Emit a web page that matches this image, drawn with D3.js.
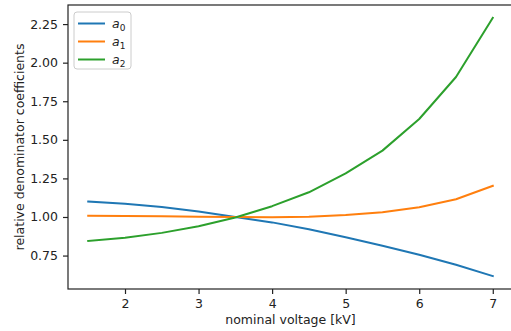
<!DOCTYPE html>
<html>
<head>
<meta charset="utf-8">
<script src="https://cdn.jsdelivr.net/npm/d3@7"></script>
<style>
  html, body { margin: 0; padding: 0; background: #fff; }
  svg { display: block; font-family: "DejaVu Sans", sans-serif; }
</style>
</head>
<body>
<svg id="chart" width="511" height="331"></svg>
<script>
// Nominal voltage grid [kV]
const voltages = [1.5, 2, 2.5, 3, 3.5, 4, 4.5, 5, 5.5, 6, 6.5, 7];
// Relative denominator coefficients per voltage
const a0 = [1.100, 1.085, 1.065, 1.035, 1.000, 0.965, 0.920, 0.869, 0.814, 0.755, 0.690, 0.617];
const a1 = [1.008, 1.006, 1.004, 1.002, 1.000, 0.998, 1.002, 1.013, 1.030, 1.063, 1.115, 1.202];
const a2 = [0.845, 0.866, 0.897, 0.940, 0.997, 1.070, 1.160, 1.282, 1.430, 1.635, 1.907, 2.290];
const seriesNames = ["0", "1", "2"];
const seriesColors = ["#1f77b4", "#ff7f0e", "#2ca02c"];
const xTicks = [2, 3, 4, 5, 6, 7];
const yTicks = [0.75, 1.00, 1.25, 1.50, 1.75, 2.00, 2.25];

const series = [a0, a1, a2];
const FS = 12.5;

const svg = d3.select("#chart");
const margin = { left: 68, top: 5, right: -2, bottom: 42 };
const W = 511, H = 331;
const plotW = W - margin.left - margin.right;
const plotH = H - margin.top - margin.bottom;

// matplotlib-style 5% padding around the data extent
const xMin = d3.min(voltages), xMax = d3.max(voltages);
const xPad = (xMax - xMin) * 0.05;
const allY = series.flat();
const yMin = d3.min(allY), yMax = d3.max(allY);
const yPad = (yMax - yMin) * 0.05;

const x = d3.scaleLinear().domain([xMin - xPad, xMax + xPad]).range([0, plotW]);
const y = d3.scaleLinear().domain([yMin - yPad, yMax + yPad]).range([plotH, 0]);

const g = svg.append("g").attr("transform", `translate(${margin.left},${margin.top})`);

const line = d3.line().x((d, i) => x(voltages[i])).y(d => y(d));

series.forEach((s, k) => {
  g.append("path")
    .datum(s)
    .attr("d", line)
    .attr("fill", "none")
    .attr("stroke", seriesColors[k])
    .attr("stroke-width", 2)
    .attr("stroke-linejoin", "round")
    .attr("stroke-linecap", "square");
});

// Axes
const xAxis = d3.axisBottom(x).tickValues(xTicks).tickFormat(d3.format("d")).tickSize(5).tickPadding(5);
const yAxis = d3.axisLeft(y).tickValues(yTicks).tickFormat(d3.format(".2f")).tickSize(5).tickPadding(5);

const gx = g.append("g").attr("transform", `translate(0,${plotH})`).call(xAxis);
const gy = g.append("g").call(yAxis);
[gx, gy].forEach(a => {
  a.select(".domain").remove();
  a.selectAll(".tick line").attr("stroke", "#222").attr("stroke-width", 1.2);
  a.selectAll(".tick text").attr("fill", "#222").attr("font-size", FS).attr("font-family", "DejaVu Sans");
});

// Frame (spines)
g.append("rect")
  .attr("x", 0).attr("y", 0).attr("width", plotW).attr("height", plotH)
  .attr("fill", "none").attr("stroke", "#222").attr("stroke-width", 1.2);

// Axis labels
svg.append("text")
  .attr("x", margin.left + plotW / 2).attr("y", 324)
  .attr("text-anchor", "middle").attr("font-size", FS).attr("fill", "#222")
  .text("nominal voltage [kV]");

svg.append("text")
  .attr("transform", `translate(24,${margin.top + plotH / 2}) rotate(-90)`)
  .attr("text-anchor", "middle").attr("font-size", FS).attr("fill", "#222")
  .text("relative denominator coefficients");

// Legend
const lg = svg.append("g").attr("transform", "translate(74,12)");
lg.append("rect")
  .attr("width", 57).attr("height", 57).attr("rx", 3)
  .attr("fill", "#fff").attr("fill-opacity", 0.8)
  .attr("stroke", "#ccc").attr("stroke-width", 1);
seriesNames.forEach((nm, k) => {
  const yy = 11.5 + k * 18;
  lg.append("line")
    .attr("x1", 4).attr("x2", 31).attr("y1", yy).attr("y2", yy)
    .attr("stroke", seriesColors[k]).attr("stroke-width", 2);
  const t = lg.append("text")
    .attr("x", 38).attr("y", yy + 4)
    .attr("font-size", FS).attr("fill", "#222");
  t.append("tspan").attr("font-style", "italic").text("a");
  t.append("tspan").attr("font-size", 9).attr("dy", 3).text(nm);
});
</script>
</body>
</html>
